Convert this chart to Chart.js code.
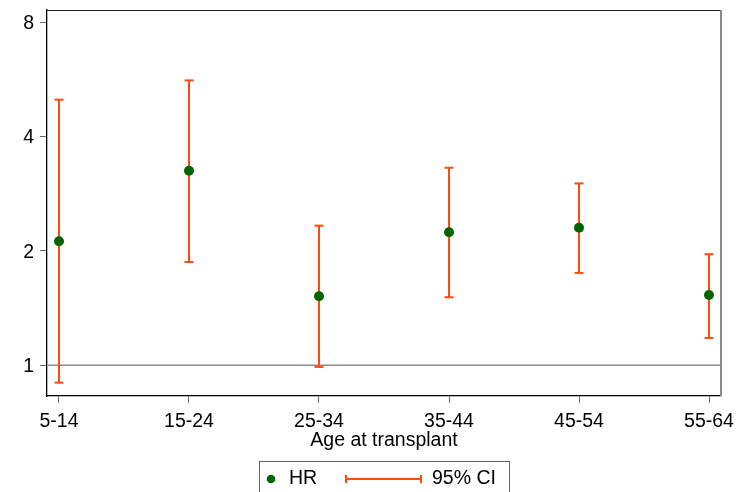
<!DOCTYPE html>
<html>
<head>
<meta charset="utf-8">
<script src="https://cdn.jsdelivr.net/npm/chart.js@4/dist/chart.umd.min.js"></script>
<style>
html,body{margin:0;padding:0;background:#fff;}
#wrap{width:744px;height:492px;position:relative;}
</style>
</head>
<body>
<div id="wrap"><canvas id="c" width="744" height="492"></canvas></div>
<script>
const categories = ['5-14', '15-24', '25-34', '35-44', '45-54', '55-64'];
const hr = [2.12, 3.25, 1.52, 2.24, 2.30, 1.53];
const ciLow = [0.90, 1.87, 0.99, 1.51, 1.75, 1.18];
const ciHigh = [5.00, 5.62, 2.33, 3.31, 3.01, 1.96];
const yTicks = [1, 2, 4, 8];
const refValue = 1;
const xTitle = 'Age at transplant';
const legendLabels = ['HR', '95% CI'];

const FONT = "'Liberation Sans', Arial, Helvetica, sans-serif";
const FS = 19.5;
const GREEN = '#006400';
const ORANGE = '#ff4a0f';
const XPAD = 0.0923;

const hrData = categories.map((c, i) => ({x: i, y: hr[i]}));
const ciData = [];
categories.forEach((c, i) => {
  ciData.push({x: i, y: ciLow[i]});
  ciData.push({x: i, y: ciHigh[i]});
  ciData.push({x: i, y: null});
});
const refData = [{x: -XPAD, y: refValue}, {x: categories.length - 1 + XPAD, y: refValue}];

const framePlugin = {
  id: 'frame',
  afterDatasetsDraw(chart) {
    const {ctx, chartArea: a} = chart;
    ctx.save();
    ctx.strokeStyle = '#222';
    ctx.lineWidth = 1.2;
    ctx.beginPath();
    ctx.moveTo(a.left, a.top + 0.5);
    ctx.lineTo(a.right, a.top + 0.5);
    ctx.stroke();
    ctx.strokeStyle = '#8a8a8a';
    ctx.lineWidth = 2;
    ctx.beginPath();
    ctx.moveTo(a.right, a.top);
    ctx.lineTo(a.right, a.bottom);
    ctx.stroke();
    ctx.restore();
  },
  afterDraw(chart) {
    const ctx = chart.ctx;
    ctx.save();
    ctx.strokeStyle = '#666';
    ctx.lineWidth = 1;
    ctx.strokeRect(259.5, 461.5, 250, 40);
    const cy = 479;
    ctx.fillStyle = GREEN;
    ctx.beginPath();
    ctx.arc(271, cy, 4.3, 0, Math.PI * 2);
    ctx.fill();
    ctx.fillStyle = '#000';
    ctx.font = FS + 'px ' + FONT;
    ctx.textBaseline = 'middle';
    ctx.textAlign = 'left';
    ctx.fillText(legendLabels[0], 289, cy);
    ctx.strokeStyle = ORANGE;
    ctx.lineWidth = 2;
    ctx.beginPath();
    ctx.moveTo(346, cy); ctx.lineTo(421, cy);
    ctx.moveTo(346, cy - 4); ctx.lineTo(346, cy + 4);
    ctx.moveTo(421, cy - 4); ctx.lineTo(421, cy + 4);
    ctx.stroke();
    ctx.fillText(legendLabels[1], 432, cy);
    ctx.restore();
  }
};

new Chart(document.getElementById('c'), {
  type: 'scatter',
  data: {
    datasets: [
      {
        label: 'HR',
        data: hrData,
        showLine: false,
        pointRadius: 5,
        pointBackgroundColor: GREEN,
        pointBorderWidth: 0,
        borderColor: GREEN
      },
      {
        label: '95% CI',
        type: 'line',
        data: ciData,
        showLine: true,
        spanGaps: false,
        borderColor: ORANGE,
        borderWidth: 2,
        pointStyle: 'line',
        pointRadius: 4.5,
        pointBorderWidth: 2,
        pointBorderColor: ORANGE,
        pointBackgroundColor: ORANGE,
        tension: 0
      },
      {
        label: 'ref',
        type: 'line',
        data: refData,
        showLine: true,
        borderColor: '#8c8c8c',
        borderWidth: 1.6,
        pointRadius: 0
      }
    ]
  },
  options: {
    responsive: false,
    animation: false,
    events: [],
    layout: {padding: {left: 0, right: 23, top: 10, bottom: 0}},
    plugins: {legend: {display: false}, tooltip: {enabled: false}},
    scales: {
      x: {
        type: 'linear',
        min: -XPAD,
        max: categories.length - 1 + XPAD,
        afterFit(s) { s.height = 96; s.paddingLeft = 0; s.paddingRight = 0; },
        afterBuildTicks(s) { s.ticks = categories.map((c, i) => ({value: i})); },
        ticks: {
          callback: (v) => categories[v],
          color: '#000',
          font: {family: FONT, size: FS},
          padding: 7,
          maxRotation: 0,
          autoSkip: false
        },
        grid: {display: true, drawOnChartArea: false, drawTicks: true, tickLength: 7, color: '#666', lineWidth: 1},
        border: {display: true, color: '#000', width: 1.3},
        title: {display: true, text: xTitle, color: '#000', font: {family: FONT, size: FS}, padding: {top: 0, bottom: 39.5}}
      },
      y: {
        type: 'logarithmic',
        min: 0.830,
        max: 8.61,
        afterFit(s) { s.width = 47; s.paddingTop = 0; s.paddingBottom = 0; },
        afterBuildTicks(s) { s.ticks = yTicks.map(v => ({value: v})); },
        ticks: {
          callback: (v) => String(v),
          color: '#000',
          font: {family: FONT, size: FS},
          padding: 6,
          labelOffset: 1.5
        },
        grid: {display: true, drawOnChartArea: false, drawTicks: true, tickLength: 7, color: '#666', lineWidth: 1},
        border: {display: true, color: '#000', width: 1.3}
      }
    }
  },
  plugins: [framePlugin]
});
</script>
</body>
</html>
